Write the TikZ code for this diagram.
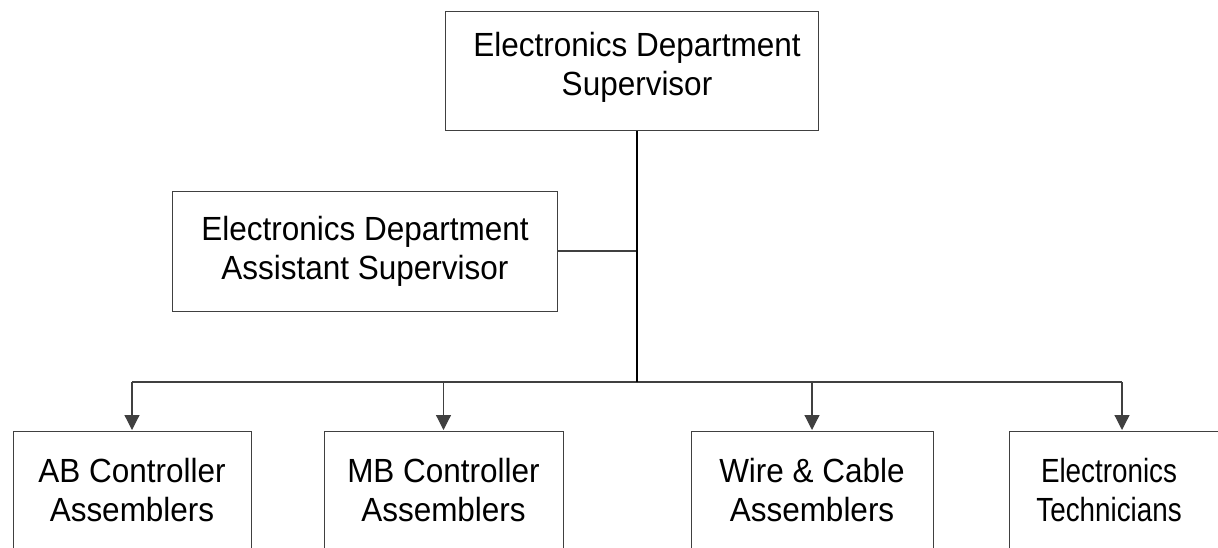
\documentclass[tikz,border=0pt]{standalone}
\usepackage{fontspec}
\setmainfont{Liberation Sans}[FakeStretch=0.94]
\newfontfamily\narrowsans{Liberation Sans}[FakeStretch=0.83]
\usetikzlibrary{arrows.meta}

\tikzset{
  orgbox/.style={draw=black!75, line width=1pt, rectangle, inner sep=0pt},
  boxtext/.style={align=center, inner sep=0pt,
    font=\fontsize{33.5}{39}\selectfont},
  narrowtext/.style={boxtext, font=\narrowsans\fontsize{33.5}{39}\selectfont},
  trunk/.style={draw=black, line width=2pt},
  link/.style={draw=black!75, line width=1.2pt},
  feed/.style={draw=black!75, line width=1.2pt,
    -{Triangle[width=15pt,length=15pt]}, shorten >=0.5pt},
}

\begin{document}
\begin{tikzpicture}[x=1pt, y=-1pt]
  \useasboundingbox (0,0) rectangle (1218,547);
  \clip (0,0) rectangle (1218,547);

  % supervisor and assistant
  \node[orgbox, minimum width=373pt, minimum height=119pt] (sup) at (631.5,70.5) {};
  \node[boxtext] (suptext) at (637,67) {Electronics Department\\Supervisor};
  \node[orgbox, minimum width=385pt, minimum height=120pt] (asst) at (365,251) {};
  \node[boxtext] (assttext) at (365,251) {Electronics Department\\Assistant Supervisor};

  % the four teams; their lower edges run past the page
  \node[orgbox, minimum width=238pt, minimum height=124pt] (ab) at (132,493) {};
  \node[boxtext] (abtext) at (132,490) {AB Controller\\Assemblers};
  \node[orgbox, minimum width=239pt, minimum height=124pt] (mb) at (443.5,493) {};
  \node[boxtext] (mbtext) at (443.5,490) {MB Controller\\Assemblers};
  \node[orgbox, minimum width=242pt, minimum height=124pt] (wire) at (812,493) {};
  \node[boxtext] (wiretext) at (812,490) {Wire \& Cable\\Assemblers};
  \node[orgbox, minimum width=226pt, minimum height=124pt] (tech) at (1122,493) {};
  \node[narrowtext] (techtext) at (1109,490) {Electronics\\Technicians};

  % junctions on the trunk
  \coordinate (ja) at (637,251);
  \coordinate (jb) at (637,382);

  \draw[link] (asst.east) -- (ja);
  \draw[link] (ab.north |- jb) -- (tech.north |- jb);
  \draw[trunk] (sup.south -| jb) -- (jb);

  \draw[feed] (ab.north |- jb) -- (ab.north);
  \draw[feed] (mb.north |- jb) -- (mb.north);
  \draw[feed] (wire.north |- jb) -- (wire.north);
  \draw[feed] (tech.north |- jb) -- (tech.north);
\end{tikzpicture}
\end{document}
